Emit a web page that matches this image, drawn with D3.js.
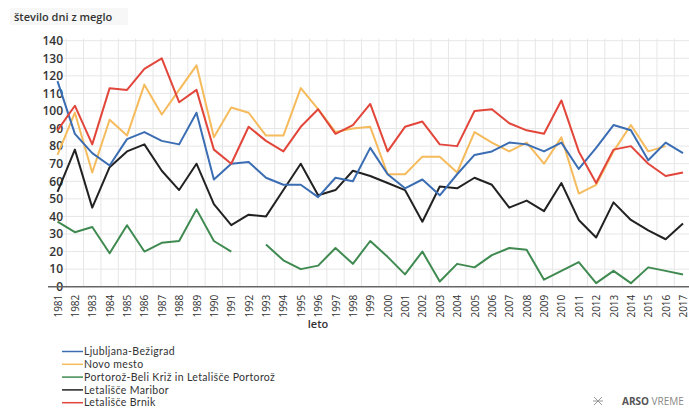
<!DOCTYPE html>
<html><head><meta charset="utf-8">
<script src="https://cdn.jsdelivr.net/npm/d3@7"></script>
<style>
body{margin:0;background:#fff;}
svg{display:block;font-family:"Open Sans",sans-serif;}
</style></head>
<body><svg id="c" width="689" height="409"></svg>
<script>
const years = d3.range(1981, 2018);
const yTicks = [0,10,20,30,40,50,60,70,80,90,100,110,120,130,140];
const seriesNames = ["Ljubljana-Bežigrad","Novo mesto","Portorož-Beli Križ in Letališče Portorož","Letališče Maribor","Letališče Brnik"];
const ljubljana = [117,87,76,69,84,88,83,81,99,61,70,71,62,58,58,51,62,60,79,64,56,61,52,64,75,77,82,81,77,82,67,79,92,89,72,82,76];
const novoMesto = [75,99,65,95,86,115,98,112,126,85,102,99,86,86,113,101,88,90,91,64,64,74,74,65,88,82,77,82,70,85,53,58,77,92,77,80,null];
const portoroz = [37,31,34,19,35,20,25,26,44,26,20,null,24,15,10,12,22,13,26,17,7,20,3,13,11,18,22,21,4,9,14,2,9,2,11,9,7];
const maribor = [54,78,45,68,77,81,66,55,70,47,35,41,40,55,70,52,55,66,63,59,55,37,57,56,62,58,45,49,43,59,38,28,48,38,32,27,36];
const brnik = [89,103,81,113,112,124,130,105,112,78,70,91,83,77,91,101,87,92,104,77,91,94,81,80,100,101,93,89,87,106,77,59,78,80,70,63,65];
const colors = ["#3b6db3","#f5bb5c","#3f8a50","#222222","#e2463b"];

const svg = d3.select("#c");
const x = d3.scaleLinear().domain([1981,2017]).range([57.5,683]);
const y = d3.scaleLinear().domain([0,140]).range([286.7,40.7]);
const left = 48, right = 689;

// title
svg.append("rect").attr("x",10).attr("y",8).attr("width",118).attr("height",17).attr("fill","#f7f7f7");
svg.append("text").attr("x",14).attr("y",21).attr("font-size",11).attr("font-weight",600).attr("fill","#333").text("število dni z meglo");

// grid
const g = svg.append("g");
g.selectAll("line.h").data(yTicks.filter(d=>d>0)).join("line")
  .attr("x1",left).attr("x2",right).attr("y1",d=>y(d)).attr("y2",d=>y(d))
  .attr("stroke","#e6e6e6").attr("stroke-width",1);
g.selectAll("line.v").data(years.slice(0,-1)).join("line")
  .attr("x1",d=>x(d+0.5)).attr("x2",d=>x(d+0.5)).attr("y1",y(140)-2).attr("y2",y(0))
  .attr("stroke","#e6e6e6").attr("stroke-width",1);

// y axis labels
const yAxis = d3.axisLeft(y).tickValues(yTicks).tickSize(0).tickPadding(0);
svg.append("g").attr("transform","translate(63,0)").call(yAxis)
  .call(s=>s.select(".domain").remove())
  .call(s=>s.selectAll("text").attr("font-size",12).attr("font-weight",600).attr("fill","#333").attr("font-family","Open Sans, sans-serif"));

// zero line
svg.append("line").attr("x1",left).attr("x2",right).attr("y1",y(0)).attr("y2",y(0)).attr("stroke","#666").attr("stroke-width",1.5);

// x axis
const xAxis = d3.axisBottom(x).tickValues(years).tickFormat(d3.format("d")).tickSize(0).tickPadding(0);
const xa = svg.append("g").attr("transform",`translate(0,${y(0)+8})`).call(xAxis);
xa.select(".domain").remove();
xa.selectAll("text").attr("font-size",10).attr("fill","#333").attr("font-family","Open Sans, sans-serif")
  .attr("text-anchor","end").attr("dy","0.35em").attr("x",0).attr("y",0).attr("transform","rotate(-90)");
svg.append("text").attr("x",318).attr("y",328).attr("text-anchor","middle").attr("font-size",11).attr("font-weight",600).attr("fill","#333").text("leto");

// lines
const all = [ljubljana, novoMesto, portoroz, maribor, brnik];
const line = d3.line().defined(d=>d!=null).x((d,i)=>x(years[i])).y(d=>y(d));
const drawOrder = [2,3,1,0,4];
drawOrder.forEach(k=>{
  svg.append("path").datum(all[k]).attr("d",line).attr("fill","none")
    .attr("stroke",colors[k]).attr("stroke-width",2).attr("stroke-linejoin","round");
});

// legend
const lg = svg.append("g");
seriesNames.forEach((n,i)=>{
  const yy = 351.5 + i*12.8;
  lg.append("line").attr("x1",62).attr("x2",83).attr("y1",yy).attr("y2",yy).attr("stroke",colors[i]).attr("stroke-width",1.5);
  lg.append("text").attr("x",84).attr("y",yy).attr("dy","0.35em").attr("font-size",10.5)
    .attr("font-family","Lato, sans-serif").attr("letter-spacing",0.35).attr("fill","#333").text(n);
});

// logo
const lo = svg.append("g").attr("transform","translate(598,401)");
lo.append("path").attr("d","M-4,-4 L4,4 M4,-4 L-4,4 M-5,0 L5,0").attr("stroke","#999").attr("stroke-width",1).attr("fill","none");
svg.append("text").attr("x",622).attr("y",405).attr("font-size",10).attr("fill","#555")
  .call(t=>{t.append("tspan").attr("font-weight",700).text("ARSO");t.append("tspan").attr("fill","#888").text(" VREME");});
</script></body></html>
